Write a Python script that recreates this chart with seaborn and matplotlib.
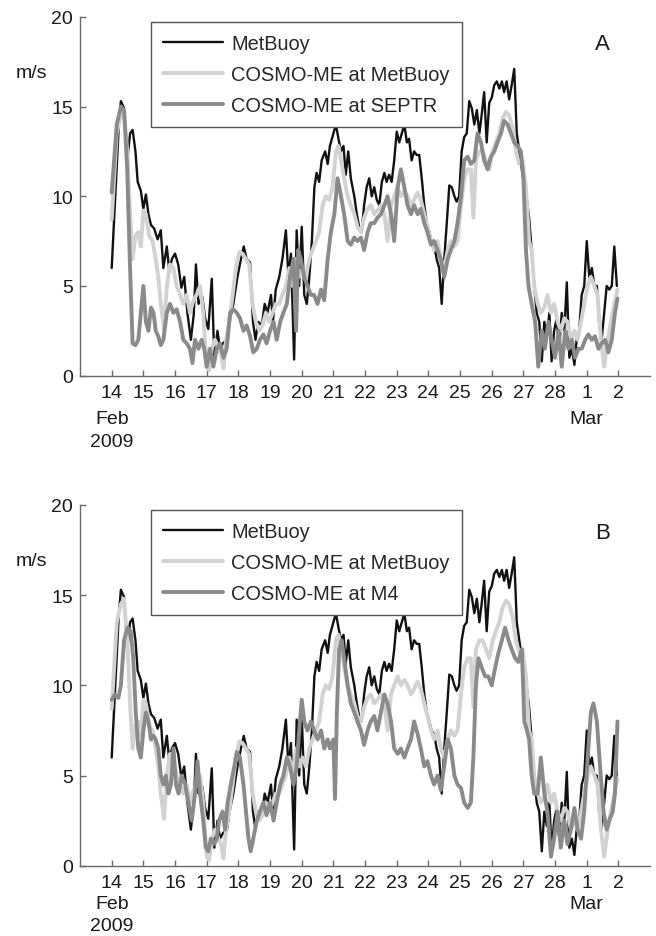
import numpy as np
import pandas as pd
import matplotlib
matplotlib.use("Agg")
import matplotlib.pyplot as plt
import seaborn as sns

# ---------------------------------------------------------------------------
# Wind speed (m/s), time in days since 14 Feb 2009 00:00
# ---------------------------------------------------------------------------
metbuoy_day = [0, .22, .29, .39, .49, .58, .66, .75, .82, .92, 1.0, 1.08, 1.16, 1.24, 1.34,
               1.45, 1.55, 1.63, 1.74, 1.82, 1.9, 2.0, 2.1, 2.2, 2.29, 2.39, 2.5, 2.59, 2.66,
               2.74, 2.86, 2.95, 3.05, 3.16, 3.24, 3.34, 3.42, 3.51, 3.64, 3.72, 3.84, 3.97,
               4.08, 4.17, 4.26, 4.37, 4.46, 4.54, 4.63, 4.74, 4.83, 4.92, 5.03, 5.09, 5.18,
               5.29, 5.39, 5.5, 5.58, 5.66, 5.76, 5.84, 5.92, 6.0, 6.08, 6.16, 6.24, 6.32,
               6.4, 6.47, 6.55, 6.63, 6.74, 6.82, 6.89, 7.0, 7.08, 7.16, 7.24, 7.32, 7.39,
               7.47, 7.55, 7.66, 7.74, 7.82, 7.89, 7.97, 8.05, 8.13, 8.21, 8.29, 8.37, 8.45,
               8.53, 8.61, 8.68, 8.76, 8.84, 8.92, 9.0, 9.08, 9.16, 9.24, 9.32, 9.39, 9.47,
               9.55, 9.63, 9.71, 9.79, 9.87, 9.95, 10.03, 10.1, 10.18, 10.26, 10.34, 10.42,
               10.5, 10.58, 10.66, 10.74, 10.82, 10.89, 10.97, 11.05, 11.13, 11.21, 11.29,
               11.37, 11.45, 11.53, 11.61, 11.68, 11.76, 11.84, 11.92, 12.0, 12.08, 12.16,
               12.24, 12.32, 12.39, 12.47, 12.55, 12.63, 12.71, 12.79, 12.87, 12.95, 13.03,
               13.11, 13.18, 13.26, 13.34, 13.42, 13.5, 13.58, 13.66, 13.74, 13.82, 13.89,
               13.97, 14.05, 14.13, 14.21, 14.29, 14.37, 14.45, 14.53, 14.61, 14.68, 14.76,
               14.84, 14.92, 15.0, 15.08, 15.16, 15.24, 15.32, 15.39, 15.47, 15.55, 15.63,
               15.71, 15.79, 15.87, 15.95]
metbuoy_ms = [6.0, 13.8, 15.3, 14.9, 12.0, 13.5, 13.7, 12.5, 10.8, 10.3, 9.3, 10.1, 9.0, 8.4, 8.2,
              7.6, 8.1, 6.0, 7.2, 5.8, 6.5, 6.8, 6.2, 4.9, 5.5, 3.5, 2.0, 3.4, 6.2,
              4.0, 4.4, 3.2, 2.6, 5.4, 1.0, 2.5, 1.5, 1.8, 2.0, 3.0, 4.0, 5.5,
              6.5, 7.2, 6.5, 6.3, 3.0, 2.0, 3.0, 2.8, 4.0, 3.5, 4.5, 3.0, 4.8,
              5.5, 6.5, 8.1, 5.5, 6.8, 0.9, 8.1, 5.0, 8.3, 4.5, 4.0, 5.5, 7.5,
              10.5, 11.3, 10.8, 12.0, 12.5, 11.8, 12.8, 13.5, 14.0, 13.2, 12.5, 12.8, 11.2,
              12.5, 11.0, 10.0, 9.0, 8.2, 8.0, 9.5, 10.5, 11.0, 10.0, 10.5, 9.8, 9.5,
              10.8, 11.3, 10.8, 11.2, 10.8, 12.0, 13.6, 13.0, 13.5, 14.0, 13.0, 13.2, 12.0,
              12.5, 12.3, 12.3, 11.0, 9.5, 8.5, 8.0, 7.5, 7.3, 6.5, 6.0, 4.0,
              6.5, 8.5, 10.6, 10.5, 10.0, 9.7, 10.0, 12.5, 13.3, 13.5, 15.3,
              14.9, 14.0, 14.8, 13.5, 14.5, 15.8, 13.0, 15.2, 15.5, 16.2, 16.4,
              16.0, 16.4, 15.8, 16.4, 15.4, 16.2, 17.1, 13.5, 12.5, 11.5, 10.5,
              9.8, 8.8, 7.0, 5.0, 3.5, 3.0, 0.8, 3.0, 2.2, 3.5, 0.8,
              2.5, 3.2, 1.5, 3.5, 2.5, 5.2, 1.0, 1.5, 0.6, 2.0, 2.5,
              4.5, 5.0, 7.5, 5.5, 6.0, 5.0, 5.0, 3.0, 2.0, 3.5, 5.0,
              4.8, 5.0, 7.2, 5.0]

cosmo_buoy_day = [0, .16, .29, .39, .49, .58, .66, .75, .84, .92, 1.0, 1.08, 1.18, 1.29, 1.39,
                  1.47, 1.55, 1.65, 1.74, 1.84, 1.95, 2.05, 2.16, 2.26, 2.37, 2.47, 2.58, 2.68,
                  2.79, 2.89, 3.0, 3.08, 3.16, 3.26, 3.37, 3.45, 3.53, 3.61, 3.71, 3.82, 3.92,
                  4.03, 4.13, 4.24, 4.34, 4.45, 4.55, 4.66, 4.76, 4.87, 4.97, 5.08, 5.18, 5.29,
                  5.39, 5.5, 5.61, 5.71, 5.82, 5.92, 6.03, 6.13, 6.24, 6.34, 6.45, 6.55, 6.66,
                  6.76, 6.87, 6.97, 7.08, 7.16, 7.24, 7.34, 7.45, 7.55, 7.66, 7.76, 7.87, 7.97,
                  8.08, 8.18, 8.29, 8.39, 8.5, 8.61, 8.71, 8.82, 8.92, 9.03, 9.13, 9.24, 9.34,
                  9.45, 9.55, 9.66, 9.76, 9.87, 9.97, 10.08, 10.18, 10.29, 10.39, 10.5, 10.61,
                  10.71, 10.82, 10.92, 11.03, 11.13, 11.24, 11.34, 11.42, 11.5, 11.61, 11.71,
                  11.82, 11.92, 12.03, 12.13, 12.24, 12.34, 12.45, 12.55, 12.66, 12.76, 12.87,
                  12.97, 13.08, 13.18, 13.26, 13.34, 13.45, 13.55, 13.66, 13.76, 13.87, 13.97,
                  14.08, 14.18, 14.29, 14.39, 14.5, 14.61, 14.71, 14.82, 14.92, 15.03, 15.13,
                  15.24, 15.34, 15.45, 15.55, 15.66, 15.76, 15.87, 15.97]
cosmo_buoy_ms = [8.7, 13.5, 14.5, 14.8, 12.5, 9.0, 6.5, 7.8, 8.0, 7.2, 9.2, 9.0, 7.8, 7.5, 6.5,
                 5.5, 4.0, 2.6, 5.0, 6.2, 6.0, 5.0, 4.5, 4.0, 4.5, 3.5, 4.2, 4.5,
                 5.0, 3.5, 0.5, 0.3, 1.5, 2.0, 1.5, 1.2, 0.4, 2.0, 3.0, 4.5, 6.0,
                 6.9, 6.8, 6.5, 6.2, 4.0, 3.0, 2.5, 2.8, 3.5, 3.0, 3.5, 4.0, 4.0,
                 4.5, 5.0, 6.0, 5.0, 6.5, 5.5, 6.0, 5.5, 6.5, 7.0, 7.5, 8.0, 9.5,
                 10.0, 9.8, 10.5, 12.5, 12.8, 12.0, 11.0, 10.0, 9.5, 9.0, 8.3, 8.0, 8.8,
                 9.3, 9.5, 9.0, 9.2, 9.5, 9.0, 7.5, 9.5, 10.0, 10.5, 10.0, 10.3, 10.0,
                 9.5, 9.8, 10.2, 9.8, 9.0, 8.3, 7.5, 7.0, 7.5, 6.5, 6.0, 7.0,
                 7.5, 7.2, 7.5, 9.5, 11.0, 11.5, 11.5, 8.8, 12.0, 12.5, 12.5,
                 12.0, 11.5, 12.5, 13.0, 13.5, 14.3, 14.7, 14.5, 13.8, 12.5, 11.8,
                 12.0, 10.5, 7.5, 7.0, 5.0, 4.0, 3.5, 3.8, 4.5, 3.5, 4.0,
                 3.0, 2.5, 3.2, 3.0, 2.0, 2.5, 2.0, 3.0, 4.0, 5.0, 5.5,
                 5.0, 4.5, 2.0, 0.5, 2.0, 3.0, 4.0, 4.8]

septr_day = [0, .16, .29, .39, .49, .58, .66, .75, .84, .92, 1.0, 1.08, 1.16, 1.24, 1.32,
             1.39, 1.47, 1.55, 1.63, 1.74, 1.84, 1.95, 2.05, 2.16, 2.26, 2.37, 2.47, 2.55,
             2.63, 2.74, 2.84, 2.92, 3.0, 3.1, 3.21, 3.32, 3.42, 3.53, 3.63, 3.74, 3.84,
             3.95, 4.05, 4.16, 4.26, 4.37, 4.47, 4.58, 4.68, 4.79, 4.89, 5.0, 5.11, 5.21,
             5.32, 5.42, 5.53, 5.63, 5.74, 5.82, 5.89, 5.97, 6.08, 6.18, 6.29, 6.39, 6.5,
             6.61, 6.71, 6.82, 6.92, 7.03, 7.13, 7.24, 7.34, 7.45, 7.55, 7.66, 7.76, 7.87,
             7.97, 8.08, 8.18, 8.29, 8.39, 8.5, 8.61, 8.71, 8.82, 8.92, 9.03, 9.13, 9.24,
             9.34, 9.45, 9.55, 9.66, 9.76, 9.87, 9.97, 10.08, 10.18, 10.29, 10.39, 10.5,
             10.61, 10.71, 10.82, 10.92, 11.03, 11.13, 11.24, 11.34, 11.45, 11.55, 11.66,
             11.76, 11.87, 11.97, 12.08, 12.18, 12.29, 12.39, 12.5, 12.61, 12.71, 12.82,
             12.92, 13.0, 13.08, 13.16, 13.26, 13.37, 13.47, 13.58, 13.68, 13.79, 13.89,
             14.0, 14.11, 14.21, 14.32, 14.42, 14.53, 14.63, 14.74, 14.84, 14.95, 15.05,
             15.16, 15.26, 15.37, 15.47, 15.58, 15.68, 15.79, 15.89, 15.97]
septr_ms = [10.2, 14.0, 15.0, 14.8, 11.5, 6.0, 1.8, 1.7, 2.0, 3.5, 5.0, 3.0, 2.5, 3.8, 3.5,
            2.5, 2.2, 1.7, 2.0, 3.5, 4.0, 3.5, 3.7, 3.0, 2.0, 1.8, 1.5, 0.7,
            2.0, 1.5, 2.0, 1.5, 0.5, 1.5, 0.5, 1.5, 1.8, 1.0, 1.5, 3.5, 3.7,
            3.5, 3.2, 2.5, 2.8, 2.2, 1.3, 1.5, 2.0, 2.3, 1.8, 2.5, 3.0, 2.0,
            3.0, 3.5, 4.0, 5.5, 6.5, 2.5, 7.0, 6.5, 5.5, 5.0, 4.5, 4.5, 4.0,
            4.8, 4.2, 6.5, 8.0, 9.0, 11.0, 10.0, 9.0, 7.5, 7.3, 7.7, 7.5, 7.7,
            7.0, 8.0, 8.5, 8.5, 8.8, 9.0, 9.5, 10.0, 9.0, 7.5, 10.5, 11.5, 10.5,
            9.5, 9.0, 9.5, 9.0, 9.3, 8.5, 8.0, 7.3, 7.5, 7.0, 6.5, 5.5,
            6.5, 7.0, 7.5, 8.5, 10.0, 12.0, 12.2, 11.8, 12.0, 13.5, 13.0,
            12.0, 11.5, 12.2, 12.5, 13.0, 13.5, 14.2, 14.0, 13.5, 13.0, 12.8,
            12.5, 11.0, 7.0, 5.0, 4.0, 3.0, 0.5, 2.5, 1.5, 3.0, 2.0,
            1.0, 2.5, 0.5, 2.5, 1.5, 2.0, 1.0, 1.5, 1.5, 2.0, 2.3,
            2.0, 2.2, 1.5, 1.8, 2.0, 1.3, 2.0, 3.5, 4.3]

m4_day = [0, .1, .21, .29, .39, .5, .6, .68, .76, .84, .92, 1.0, 1.08, 1.16, 1.24, 1.32,
          1.39, 1.47, 1.55, 1.63, 1.71, 1.79, 1.87, 1.95, 2.03, 2.11, 2.21, 2.32, 2.42,
          2.53, 2.63, 2.71, 2.79, 2.89, 2.97, 3.05, 3.13, 3.24, 3.32, 3.39, 3.5, 3.58,
          3.66, 3.76, 3.87, 3.95, 4.05, 4.16, 4.24, 4.32, 4.39, 4.47, 4.58, 4.68, 4.79,
          4.89, 5.0, 5.11, 5.21, 5.32, 5.42, 5.53, 5.63, 5.74, 5.84, 5.92, 6.0, 6.08,
          6.18, 6.29, 6.39, 6.5, 6.61, 6.71, 6.82, 6.89, 7.0, 7.05, 7.11, 7.18, 7.26,
          7.34, 7.45, 7.55, 7.66, 7.76, 7.87, 7.97, 8.08, 8.18, 8.29, 8.39, 8.5, 8.61,
          8.71, 8.82, 8.92, 9.03, 9.13, 9.24, 9.34, 9.45, 9.55, 9.66, 9.76, 9.87, 9.97,
          10.08, 10.18, 10.29, 10.39, 10.5, 10.61, 10.71, 10.82, 10.92, 11.03, 11.13,
          11.24, 11.34, 11.42, 11.5, 11.58, 11.68, 11.79, 11.89, 12.0, 12.11, 12.21,
          12.32, 12.42, 12.53, 12.63, 12.74, 12.84, 12.95, 13.03, 13.11, 13.18, 13.26,
          13.34, 13.45, 13.55, 13.66, 13.76, 13.87, 13.97, 14.08, 14.18, 14.29, 14.39,
          14.5, 14.61, 14.71, 14.82, 14.92, 15.03, 15.13, 15.21, 15.32, 15.42, 15.53,
          15.63, 15.71, 15.82, 15.89, 15.97]
m4_ms = [9.2, 9.5, 9.3, 10.0, 12.5, 13.2, 13.0, 11.5, 8.5, 6.5, 6.0, 7.5, 8.5, 8.0, 7.0, 7.2,
         7.0, 6.5, 5.0, 4.5, 5.0, 4.0, 4.5, 6.5, 4.5, 4.0, 5.0, 4.5, 3.5,
         2.5, 4.0, 5.8, 4.0, 2.5, 1.0, 0.8, 1.5, 1.2, 1.5, 2.5, 3.0, 2.0,
         3.5, 4.5, 5.5, 6.3, 6.0, 4.5, 3.0, 1.5, 0.8, 1.5, 2.5, 3.0, 3.5,
         2.8, 3.5, 2.5, 3.5, 4.5, 5.0, 6.0, 5.5, 4.5, 5.5, 7.5, 9.2, 8.0,
         7.5, 8.0, 7.5, 7.0, 7.5, 6.5, 7.0, 6.5, 7.0, 3.7, 8.5, 12.0, 12.5,
         11.5, 10.0, 9.0, 8.5, 8.0, 7.5, 6.7, 7.5, 8.0, 8.3, 7.5, 8.5, 9.5,
         9.0, 8.0, 6.5, 6.2, 6.5, 6.0, 6.5, 7.0, 8.0, 7.3, 6.5, 5.5, 5.8,
         5.0, 4.5, 5.0, 4.2, 5.5, 7.0, 6.5, 5.0, 4.5, 4.3, 3.5,
         3.2, 3.5, 6.0, 10.0, 11.5, 11.0, 10.5, 10.5, 10.0, 11.0, 11.8,
         12.5, 13.2, 12.5, 12.0, 11.5, 11.3, 12.0, 8.0, 7.5, 7.0, 5.0,
         4.0, 4.0, 6.0, 4.0, 3.0, 0.5, 1.5, 3.0, 1.0, 2.5, 1.2,
         2.0, 3.2, 2.0, 1.5, 3.0, 6.0, 8.5, 9.0, 8.0, 5.5, 3.0,
         2.0, 2.5, 3.0, 4.0, 8.0]

day_ticks = list(range(17))
day_tick_labels = ['14', '15', '16', '17', '18', '19', '20', '21', '22', '23', '24',
                   '25', '26', '27', '28', '1', '2']
speed_ticks = [0, 5, 10, 15, 20]

# ---------------------------------------------------------------------------
sns.set_style("ticks")
plt.rcParams['font.family'] = ['Liberation Sans', 'DejaVu Sans']
FS = 14

BLACK = '#111111'
LIGHT = '#d2d2d2'
DARK = '#8a8a8a'
AXIS = '#6a6a6a'
TEXT = '#1a1a1a'


def frame(days, speeds):
    return pd.DataFrame({'day': days, 'speed': speeds})


def draw_panel(ax, model_day, model_ms, model_label, letter, month_offsets):
    sns.lineplot(data=frame(metbuoy_day, metbuoy_ms), x='day', y='speed', ax=ax,
                 color=BLACK, linewidth=1.7, label='MetBuoy', sort=False)
    sns.lineplot(data=frame(cosmo_buoy_day, cosmo_buoy_ms), x='day', y='speed', ax=ax,
                 color=LIGHT, linewidth=2.8, label='COSMO-ME at MetBuoy', sort=False)
    sns.lineplot(data=frame(model_day, model_ms), x='day', y='speed', ax=ax,
                 color=DARK, linewidth=2.8, label=model_label, sort=False)

    ax.set_xlim(-1, 17)
    ax.set_ylim(0, 20)
    ax.set_xticks(day_ticks)
    ax.set_xticklabels(day_tick_labels)
    ax.set_yticks(speed_ticks)
    ax.set_xlabel('')
    ax.set_ylabel('')
    for side in ('top', 'right'):
        ax.spines[side].set_visible(False)
    for side in ('left', 'bottom'):
        ax.spines[side].set_color(AXIS)
        ax.spines[side].set_linewidth(1.0)
    ax.tick_params(axis='both', direction='in', length=4, width=1.0, color=AXIS,
                   labelsize=FS, labelcolor=TEXT)
    ax.tick_params(axis='x', pad=6)
    ax.tick_params(axis='y', pad=5)

    ax.text(-0.085, 16.9, 'm/s', transform=ax.get_yaxis_transform(),
            ha='center', va='center', fontsize=FS, color=TEXT)
    ax.text(15.5, 18.5, letter, ha='center', va='center', fontsize=FS + 2, color=TEXT)

    feb_off, year_off = month_offsets
    for x, txt, off in ((0, 'Feb', feb_off), (15, 'Mar', feb_off), (0, '2009', year_off)):
        ax.annotate(txt, xy=(x, 0), xycoords=('data', 'axes fraction'),
                    xytext=(0, -off), textcoords='offset points',
                    ha='center', va='center', fontsize=FS, color=TEXT)

    leg = ax.legend(loc='upper left', bbox_to_anchor=(0.125, 0.985), frameon=True,
                    fancybox=False, framealpha=1, edgecolor='#555555',
                    handlelength=3.0, handletextpad=0.4, labelspacing=0.6,
                    borderpad=0.6, borderaxespad=0, fontsize=FS + 0.4)
    leg.get_frame().set_linewidth(1.0)


fig = plt.figure(figsize=(6.56, 9.37), dpi=100)
ax_a = fig.add_axes([0.122, 0.598, 0.869, 0.383])
ax_b = fig.add_axes([0.122, 0.075, 0.869, 0.385])

draw_panel(ax_a, septr_day, septr_ms, 'COSMO-ME at SEPTR', 'A', (31, 47.5))
draw_panel(ax_b, m4_day, m4_ms, 'COSMO-ME at M4', 'B', (27, 43))

fig.savefig('out.png', dpi=100)
